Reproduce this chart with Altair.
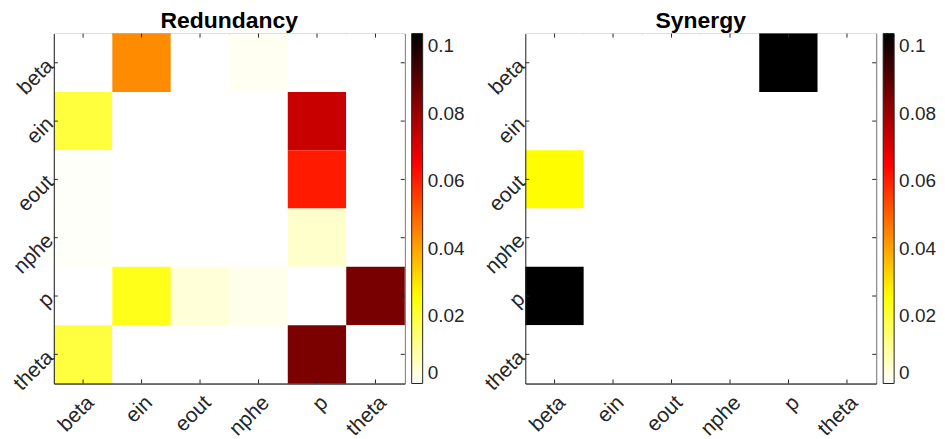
import altair as alt
import pandas as pd

variables = ["beta", "ein", "eout", "nphe", "p", "theta"]

# rows = y variable (top to bottom), columns = x variable (left to right)
redundancy = [
    [0.0,    0.0434, 0.0,    0.0013, 0.0,    0.0],
    [0.0197, 0.0,    0.0,    0.0,    0.0732, 0.0],
    [0.0006, 0.0,    0.0,    0.0,    0.0609, 0.0],
    [0.0006, 0.0,    0.0,    0.0,    0.0053, 0.0],
    [0.0,    0.0234, 0.0040, 0.0019, 0.0,    0.0852],
    [0.0195, 0.0,    0.0,    0.0,    0.0850, 0.0],
]
synergy = [
    [0.0, 0.0, 0.0, 0.0, 0.1037, 0.0],
    [0.0, 0.0, 0.0, 0.0, 0.0,    0.0],
    [0.0262, 0.0, 0.0, 0.0, 0.0, 0.0],
    [0.0, 0.0, 0.0, 0.0, 0.0,    0.0],
    [0.1037, 0.0, 0.0, 0.0, 0.0, 0.0],
    [0.0, 0.0, 0.0, 0.0, 0.0,    0.0],
]
cmax = 0.1037
legend_values = [0, 0.02, 0.04, 0.06, 0.08, 0.1]

W, H = 352, 351
FONT = "Liberation Sans"
AXC = "#262626"
TL = 4
LFS = 21

x_axis = alt.Axis(labelAngle=-45, labelAlign="right", labelBaseline="top", labelPadding=8,
                  labelFontSize=LFS, labelFont=FONT, labelColor=AXC, ticks=False,
                  domainColor=AXC, grid=False, labelLimit=0)
y_axis = alt.Axis(labelAngle=-45, labelAlign="right", labelBaseline="middle", labelPadding=4,
                  labelFontSize=LFS, labelFont=FONT, labelColor=AXC, ticks=False,
                  domainColor=AXC, grid=False, labelLimit=0)


def long(mat):
    rows = []
    for i, yv in enumerate(variables):
        for j, xv in enumerate(variables):
            rows.append({"xv": xv, "yv": yv, "val": mat[i][j]})
    return pd.DataFrame(rows)


ticks_df = pd.DataFrame({"v": variables})

color_scale = alt.Scale(
    domain=[0, cmax * 0.25, cmax * 0.625, cmax],
    range=["#ffffff", "#ffff00", "#ff0000", "#000000"],
    interpolate="rgb",
)


def panel(mat, title):
    xenc = alt.X("xv:N", sort=variables, title=None,
                 scale=alt.Scale(paddingInner=0, paddingOuter=0), axis=x_axis)
    yenc = alt.Y("yv:N", sort=variables, title=None,
                 scale=alt.Scale(paddingInner=0, paddingOuter=0), axis=y_axis)
    heat = alt.Chart(long(mat)).mark_rect().encode(
        x=xenc, y=yenc,
        color=alt.Color("val:Q", scale=color_scale, title=None,
                        legend=alt.Legend(values=legend_values, format="~g",
                                          gradientLength=H, gradientThickness=11,
                                          gradientStrokeColor="#222222", gradientStrokeWidth=1,
                                          labelFontSize=19, labelColor=AXC, labelFont=FONT,
                                          labelOffset=5, labelOverlap=False,
                                          labelBaseline="middle", offset=7, padding=0,
                                          orient="right")),
    )
    base = alt.Chart(ticks_df).mark_rule(color=AXC, strokeWidth=1)
    xt = alt.X("v:N", sort=variables, title=None, axis=x_axis)
    yt = alt.Y("v:N", sort=variables, title=None, axis=y_axis)
    t_bottom = base.encode(x=xt, y=alt.value(H), y2=alt.value(H - TL))
    t_top = base.encode(x=xt, y=alt.value(0), y2=alt.value(TL))
    t_left = base.encode(y=yt, x=alt.value(0), x2=alt.value(TL))
    t_right = base.encode(y=yt, x=alt.value(W), x2=alt.value(W - TL))
    return alt.layer(heat, t_bottom, t_top, t_left, t_right).properties(
        width=W, height=H,
        title=alt.TitleParams(title, fontSize=23, fontWeight="bold", font=FONT,
                              color="#000000", offset=0),
    )


chart = alt.hconcat(
    panel(redundancy, "Redundancy"), panel(synergy, "Synergy"), spacing=14
).resolve_legend(color="independent").properties(
    padding={"top": 1, "left": 0, "right": 0, "bottom": 0}
).configure_view(
    stroke="#555555", strokeWidth=1
)

chart.save("out.html", embed_options={"renderer": "svg", "actions": False})
